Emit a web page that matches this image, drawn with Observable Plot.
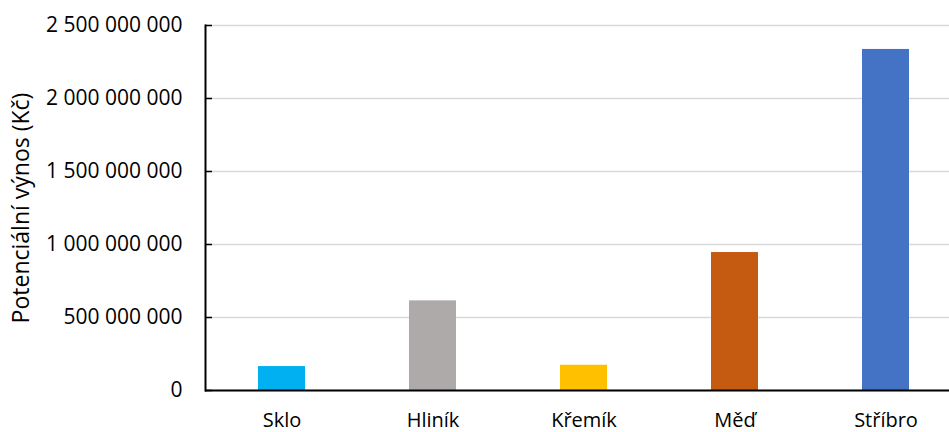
<!DOCTYPE html>
<html>
<head>
<meta charset="utf-8">
<script src="https://cdn.jsdelivr.net/npm/d3@7"></script>
<script src="https://cdn.jsdelivr.net/npm/@observablehq/plot@0.6"></script>
<style>
  html, body { margin: 0; padding: 0; background: #fff; }
  #chart svg { display: block; overflow: visible; }
  #chart svg g[aria-label="y-axis label"] text { font-size: 23px; }
</style>
</head>
<body>
<div id="chart"></div>
<script>
const categories = ["Sklo", "Hliník", "Křemík", "Měď", "Stříbro"];
const values = [164000000, 614000000, 173000000, 945000000, 2336000000];
const colors = ["#00b0f0", "#aeaaaa", "#ffc000", "#c55a11", "#4472c4"];
const yTicks = [0, 500000000, 1000000000, 1500000000, 2000000000, 2500000000];
const yLabel = "Potenciální výnos (Kč)";

const data = categories.map((c, i) => ({category: c, value: values[i]}));
const fmt = d3.formatLocale({thousands: "\u00a0", grouping: [3], decimal: ",", currency: ["", ""]}).format(",");

const chart = Plot.plot({
  width: 949,
  height: 432,
  marginTop: 25,
  marginBottom: 42,
  marginLeft: 205,
  marginRight: 0,
  style: {fontFamily: "'Open Sans', sans-serif", fontSize: "20px", color: "#000", background: "#fff"},
  x: {domain: categories, range: [205, 962.5], paddingInner: 0.686, paddingOuter: 0.343, align: 0.5},
  y: {domain: [0, 2500000000]},
  color: {domain: categories, range: colors},
  marks: [
    Plot.gridY(yTicks, {stroke: "#d9d9d9", strokeOpacity: 1, strokeWidth: 1.5}),
    Plot.barY(data, {x: "category", y: "value", fill: "category"}),
    Plot.axisY(yTicks, {tickSize: -7, tickPadding: 30, tickFormat: fmt, stroke: "#000", strokeWidth: 1.5,
      label: yLabel, labelAnchor: "center", labelArrow: "none", labelOffset: 193, fontSize: 21}),
    Plot.axisX({tickSize: 0, tickPadding: 22, label: null, fontSize: 20}),
    Plot.frame({anchor: "left", stroke: "#000", strokeWidth: 2}),
    Plot.ruleY([0], {stroke: "#000", strokeWidth: 2})
  ]
});
document.getElementById("chart").appendChild(chart);
</script>
</body>
</html>
